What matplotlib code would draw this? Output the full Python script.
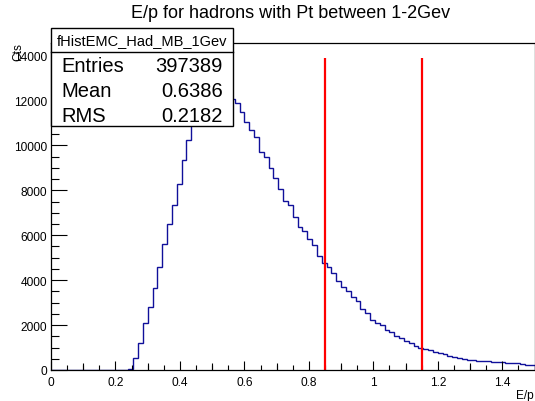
import numpy as np
import matplotlib
matplotlib.use("Agg")
import matplotlib.pyplot as plt
from matplotlib.patches import Rectangle
from matplotlib.ticker import MultipleLocator

plt.rcParams['font.family'] = ['Liberation Sans', 'DejaVu Sans']

# E/p histogram, 100 bins from 0 to 1.5
edges = np.linspace(0, 1.5, 101)
counts = [0] * 16 + [
    30, 521, 1188, 2094, 2820, 3638, 4603, 5598, 6488, 7350,
    8285, 9370, 10258, 11100, 11900, 12600, 13300, 13890, 13500, 13000,
    12500, 12071, 11893, 11506, 11032, 10690, 10364, 9724, 9473, 8984,
    8550, 8045, 7540, 7350, 6800, 6355, 6177, 5835, 5568, 5063,
    4752, 4574, 4306, 3950, 3683, 3505, 3265, 3060, 2717, 2539,
    2240, 2094, 2004, 1795, 1706, 1500, 1412, 1292, 1188, 1055,
    995, 935, 890, 788, 757, 700, 620, 590, 521, 470,
    455, 440, 420, 400, 380, 360, 350, 340, 325, 312,
    300, 260, 230, 209,
]
cut_lines = [0.85, 1.15]
stats_name = "fHistEMC_Had_MB_1Gev"
stats_rows = [("Entries", "397389"), ("Mean", "0.6386"), ("RMS", "0.2182")]

W, H = 535, 402
fig = plt.figure(figsize=(W / 100, H / 100), dpi=100)
ax = fig.add_axes([51 / W, 1 - 371 / H, 483.5 / W, (371 - 43.5) / H])

ax.stairs(counts, edges, color='#10109a', linewidth=1.0)
hmax = max(counts)
ax.vlines(cut_lines, 0, hmax, color='red', linewidth=1.6)

ax.set_xlim(0, 1.5)
ax.set_ylim(0, hmax * 1.05)
ax.xaxis.set_major_locator(MultipleLocator(0.2))
ax.xaxis.set_minor_locator(MultipleLocator(0.05))
ax.yaxis.set_major_locator(MultipleLocator(2000))
ax.yaxis.set_minor_locator(MultipleLocator(500))
ax.xaxis.set_major_formatter(lambda v, p: f"{v:g}")
ax.tick_params(axis='both', which='both', direction='in', labelsize=8.6, width=0.8)
ax.tick_params(axis='x', which='major', length=6.8, pad=4)
ax.tick_params(axis='x', which='minor', length=3.4)
ax.tick_params(axis='y', which='major', length=11.3, pad=3)
ax.tick_params(axis='y', which='minor', length=5.8)

# medium ticks at the odd tenths
sec = ax.secondary_xaxis('bottom')
sec.set_xticks([0.1, 0.3, 0.5, 0.7, 0.9, 1.1, 1.3])
sec.tick_params(direction='in', length=5.2, width=0.8, labelbottom=False)
sec.spines['bottom'].set_visible(False)

for s in ax.spines.values():
    s.set_linewidth(0.9)

fig.text(291 / W, 1 - 14 / H, "E/p for hadrons with Pt between 1-2Gev",
         ha='center', va='center', fontsize=13)
fig.text(534 / W, 1 - 396 / H, "E/p", ha='right', va='center', fontsize=8.6)
fig.text(18 / W, 1 - 43 / H, "Cts", rotation=90, ha='center', va='top', fontsize=8.6)

# stats box
bx0, bx1, by0, by1, bsep = 51, 233, 29, 127, 53
fig.patches.append(Rectangle((bx0 / W, 1 - by1 / H), (bx1 - bx0) / W, (by1 - by0) / H,
                             transform=fig.transFigure, facecolor='white',
                             edgecolor='black', linewidth=1.0, zorder=5))
fig.lines.append(plt.Line2D([bx0 / W, bx1 / W], [1 - bsep / H, 1 - bsep / H],
                            transform=fig.transFigure, color='black', linewidth=1.0, zorder=6))
fig.text((bx0 + bx1) / 2 / W, 1 - 41 / H, stats_name, ha='center', va='center',
         fontsize=10.5, zorder=7)
for i, (k, v) in enumerate(stats_rows):
    yy = 1 - (67 + 24.5 * i) / H
    fig.text(61 / W, yy, k, ha='left', va='center', fontsize=14.5, zorder=7)
    fig.text(223 / W, yy, v, ha='right', va='center', fontsize=14.5, zorder=7)

fig.savefig("out.png", dpi=100)
